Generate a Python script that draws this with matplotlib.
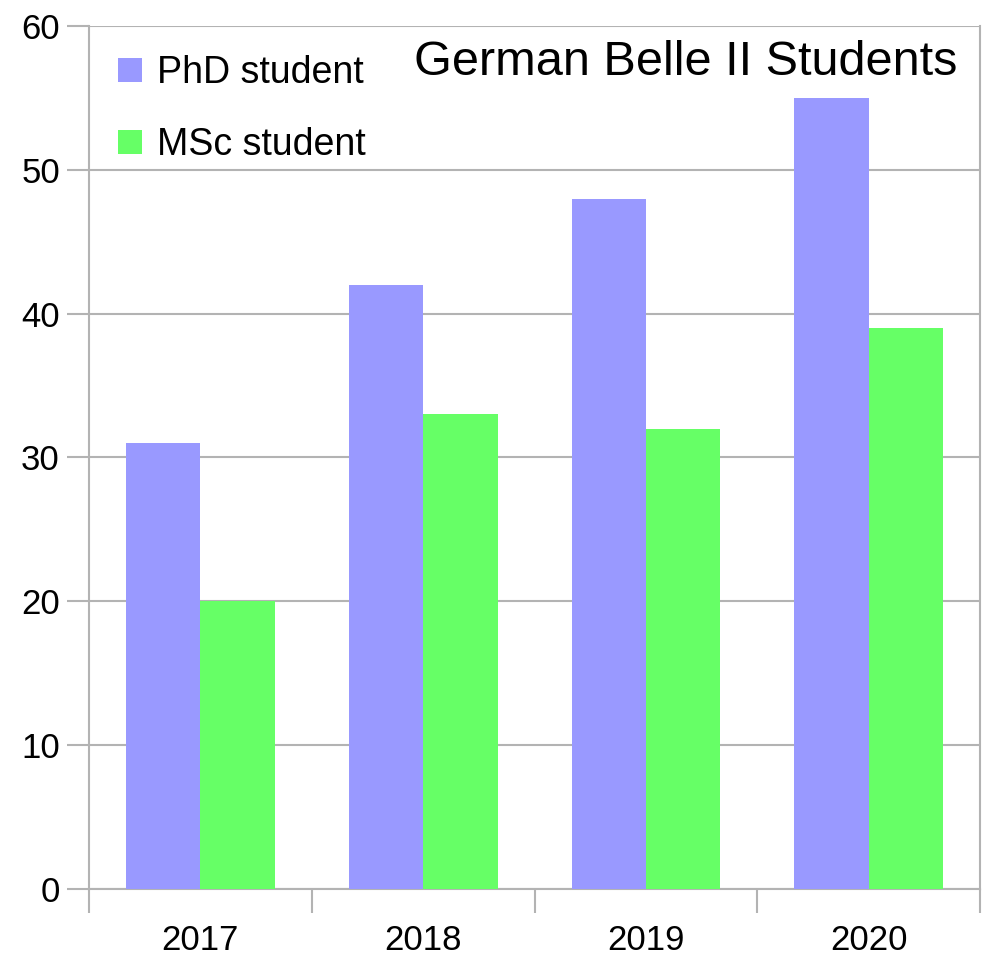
import numpy as np
import matplotlib
matplotlib.use("Agg")
import matplotlib.pyplot as plt

plt.rcParams['font.family'] = ['Liberation Sans', 'DejaVu Sans']

# data
years = ['2017', '2018', '2019', '2020']
phd = [31, 42, 48, 55]
msc = [20, 33, 32, 39]

phd_color = '#9999ff'
msc_color = '#66ff66'
grid_color = '#b3b3b3'

fig = plt.figure(figsize=(9.89, 9.57), dpi=100)
ax = fig.add_axes([0.090, 0.0711, 0.901, 0.9017])

x = np.arange(len(years))
w = 0.334
b1 = ax.bar(x - w / 2, phd, w, color=phd_color, label='PhD student', zorder=3)
b2 = ax.bar(x + w / 2, msc, w, color=msc_color, label='MSc student', zorder=3)

ax.set_xlim(-0.5, len(years) - 0.5)
ax.set_ylim(0, 60)
ax.set_yticks(range(0, 61, 10))
ax.yaxis.grid(True, color=grid_color, linewidth=1.5, zorder=0)

# year labels centred, tick marks on category borders
ax.set_xticks(x)
ax.set_xticklabels(years)
ax.tick_params(axis='x', which='major', length=0, labelsize=25, pad=25)
ax.set_xticks(np.arange(-0.5, len(years)), minor=True)
ax.tick_params(axis='x', which='minor', length=17, width=1.5, color=grid_color)
ax.tick_params(axis='y', length=16, width=1.5, color=grid_color, labelsize=25, pad=5)

for s in ['left', 'bottom', 'right']:
    ax.spines[s].set_color(grid_color)
    ax.spines[s].set_linewidth(1.5)
ax.spines['top'].set_visible(False)

ax.text(0.975, 0.984, 'German Belle II Students', transform=ax.transAxes,
        ha='right', va='top', fontsize=35)

leg = ax.legend(handles=[b1, b2], loc='upper left', bbox_to_anchor=(-0.005, 1.005),
                frameon=False, fontsize=27, handlelength=0.62, handleheight=0.62,
                handletextpad=0.4, labelspacing=0.95)

fig.savefig('out.png', dpi=100)
